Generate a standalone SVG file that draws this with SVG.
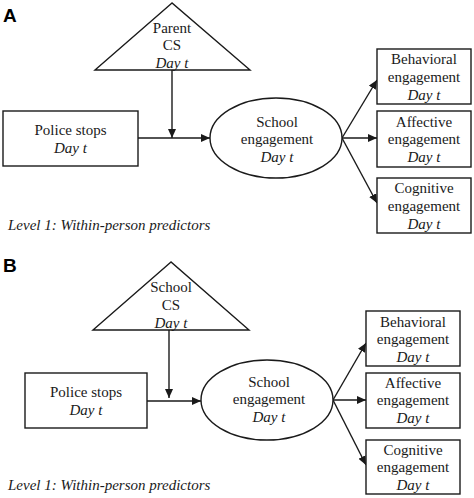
<svg xmlns="http://www.w3.org/2000/svg" width="474" height="498" viewBox="0 0 474 498">
<defs>
<marker id="ah" markerUnits="userSpaceOnUse" markerWidth="10" markerHeight="8" refX="9" refY="4" orient="auto">
<path d="M0,0 L9,4 L0,8 Z" fill="#1a1a1a"/>
</marker>
<style>
.s{fill:#fff;stroke:#1a1a1a;stroke-width:1.4}
.t{font-size:15px;fill:#1a1a1a;text-anchor:middle}
.i{font-style:italic}
.c{stroke:#1a1a1a;stroke-width:1.4;fill:none;marker-end:url(#ah)}
.p{font-family:'Liberation Sans',Arial,sans-serif;font-weight:bold;font-size:19px;fill:#000}
.l{font-size:15px;font-style:italic;fill:#1a1a1a}
</style>
</defs>
<rect width="474" height="498" fill="#fff"/>
<g font-family="Liberation Serif, Times New Roman, serif">
<!-- Panel A -->
<text class="p" x="3" y="22">A</text>
<g id="connectorsA">
<line class="c" x1="172" y1="70" x2="172" y2="138"/>
<line class="c" x1="138" y1="138" x2="210" y2="138"/>
<line class="c" x1="342" y1="138" x2="377" y2="80"/>
<line class="c" x1="342" y1="138" x2="377" y2="138"/>
<line class="c" x1="342" y1="138" x2="377" y2="203"/>
</g>
<g id="A_parentCS">
<polygon class="s" points="172,3 95,70 250,70"/>
<text class="t" x="172" y="33">Parent</text>
<text class="t" x="172" y="50">CS</text>
<text class="t i" x="172" y="68">Day t</text>
</g>
<g id="A_police">
<rect class="s" x="3" y="111" width="135" height="55"/>
<text class="t" x="70.5" y="135">Police stops</text>
<text class="t i" x="70.5" y="153">Day t</text>
</g>
<g id="A_school">
<ellipse class="s" cx="276" cy="138" rx="66" ry="40"/>
<text class="t" x="277" y="127">School</text>
<text class="t" x="277" y="144">engagement</text>
<text class="t i" x="277" y="162">Day t</text>
</g>
<g id="A_behavioral">
<rect class="s" x="377" y="49" width="94" height="55"/>
<text class="t" x="424" y="64">Behavioral</text>
<text class="t" x="424" y="82">engagement</text>
<text class="t i" x="424" y="100">Day t</text>
</g>
<g id="A_affective">
<rect class="s" x="377" y="111" width="94" height="56"/>
<text class="t" x="424" y="127">Affective</text>
<text class="t" x="424" y="144">engagement</text>
<text class="t i" x="424" y="162">Day t</text>
</g>
<g id="A_cognitive">
<rect class="s" x="377" y="178" width="94" height="55"/>
<text class="t" x="424" y="193">Cognitive</text>
<text class="t" x="424" y="211">engagement</text>
<text class="t i" x="424" y="229">Day t</text>
</g>
<text class="l" x="8" y="230">Level 1: Within-person predictors</text>

<!-- Panel B -->
<text class="p" x="3" y="272">B</text>
<g id="connectorsB">
<line class="c" x1="169" y1="330" x2="169" y2="398"/>
<line class="c" x1="147" y1="401" x2="201" y2="401"/>
<line class="c" x1="333" y1="400" x2="366" y2="343"/>
<line class="c" x1="333" y1="400" x2="366" y2="400"/>
<line class="c" x1="333" y1="400" x2="366" y2="465"/>
</g>
<g id="B_schoolCS">
<polygon class="s" points="171,262 93,330 249,330"/>
<text class="t" x="171" y="292">School</text>
<text class="t" x="171" y="310">CS</text>
<text class="t i" x="171" y="328">Day t</text>
</g>
<g id="B_police">
<rect class="s" x="25" y="373" width="122" height="55"/>
<text class="t" x="86" y="397">Police stops</text>
<text class="t i" x="86" y="415">Day t</text>
</g>
<g id="B_school">
<ellipse class="s" cx="267" cy="400" rx="66" ry="40"/>
<text class="t" x="269" y="387">School</text>
<text class="t" x="269" y="404">engagement</text>
<text class="t i" x="269" y="422">Day t</text>
</g>
<g id="B_behavioral">
<rect class="s" x="366" y="311" width="94" height="55"/>
<text class="t" x="413" y="327">Behavioral</text>
<text class="t" x="413" y="344">engagement</text>
<text class="t i" x="413" y="362">Day t</text>
</g>
<g id="B_affective">
<rect class="s" x="366" y="373" width="94" height="55"/>
<text class="t" x="413" y="388">Affective</text>
<text class="t" x="413" y="405">engagement</text>
<text class="t i" x="413" y="423">Day t</text>
</g>
<g id="B_cognitive">
<rect class="s" x="366" y="440" width="94" height="54"/>
<text class="t" x="413" y="455">Cognitive</text>
<text class="t" x="413" y="472">engagement</text>
<text class="t i" x="413" y="490">Day t</text>
</g>
<text class="l" x="8" y="490">Level 1: Within-person predictors</text>
</g>
</svg>
